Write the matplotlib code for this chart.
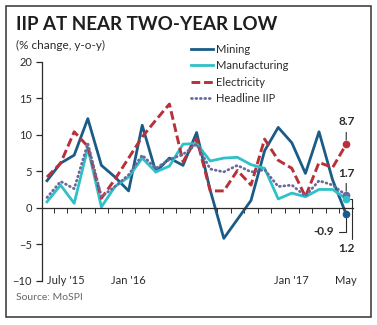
import numpy as np
import matplotlib
matplotlib.use('Agg')
import matplotlib.pyplot as plt
from matplotlib.patches import Rectangle

plt.rcParams['font.family'] = ['Lato', 'DejaVu Sans']

# monthly, July 2015 .. May 2017 (% change, y-o-y)
months = np.arange(23)
mining = [3.7, 6.1, 7.2, 12.2, 5.8, 4.2, 2.3, 11.3, 4.9, 6.8, 5.8, 10.3,
          2.4, -4.2, -1.6, 1.0, 7.8, 11.0, 8.9, 4.7, 10.4, 3.8, -0.9]
manufacturing = [0.8, 3.1, 0.6, 8.2, 0.1, 2.9, 4.2, 6.8, 4.9, 5.7, 8.7, 8.8,
                 6.4, 6.8, 6.9, 5.9, 5.4, 1.2, 2.0, 1.5, 2.5, 2.5, 1.2]
electricity = [4.2, 6.1, 10.4, 8.4, 1.3, 3.9, 6.8, 9.7, 12.0, 14.2, 6.3, 9.5,
               2.3, 2.3, 5.1, 3.1, 9.4, 6.5, 5.4, 1.5, 6.2, 5.5, 8.7]
headline = [1.4, 3.6, 2.6, 8.8, 1.5, 2.9, 4.5, 7.2, 5.4, 6.6, 7.3, 8.7,
            5.3, 4.9, 5.8, 4.9, 5.2, 2.9, 3.1, 1.6, 3.7, 3.1, 1.7]
tick_pos = [0, 6, 18, 22]
tick_labels = ["July '15", "Jan '16", "Jan '17", "May"]

c_min = '#1a5c87'
c_man = '#2fc0c8'
c_ele = '#b8303a'
c_hl = '#676a9b'
txt = '#2b2b2b'

fig = plt.figure(figsize=(3.77, 3.25), dpi=100)
ax = fig.add_axes([0.1106, 0.1363, 0.8258, 0.6738])

ax.plot(months, mining, color=c_min, lw=2.0, label='Mining')
ax.plot(months, manufacturing, color=c_man, lw=2.0, label='Manufacturing')
ax.plot(months, electricity, color=c_ele, lw=2.1, dashes=(3, 1.3), label='Electricity')
ax.plot(months, headline, color=c_hl, lw=2.0, linestyle=(0, (0.3, 1.3)),
        dash_capstyle='round', label='Headline IIP')

# end markers
for s, c in [(headline, c_hl), (manufacturing, c_man), (mining, c_min), (electricity, c_ele)]:
    ax.plot(months[-1], s[-1], 'o', color=c, ms=4.5, zorder=5)

ax.set_xlim(-0.39, 22.5)
ax.set_ylim(-10, 20)
ax.set_yticks(np.arange(-10, 21, 5))
ax.tick_params(axis='y', direction='out', length=4, width=0.9, colors=txt, labelsize=8, pad=3)
ax.set_xticks(np.arange(0.5, 22.5, 1))
ax.set_xticklabels([])
ax.tick_params(axis='x', direction='out', length=3.5, width=0.7, colors=txt)

for side in ['top', 'right']:
    ax.spines[side].set_visible(False)
ax.spines['left'].set_color(txt)
ax.spines['left'].set_linewidth(0.9)
ax.spines['bottom'].set_position(('data', 0))
ax.spines['bottom'].set_color(txt)
ax.spines['bottom'].set_linewidth(0.9)

for p, lab in zip(tick_pos, tick_labels):
    ax.text(p, -10, lab, ha='left' if p == 0 else 'center', va='center',
            fontsize=8, color=txt)

# value labels
bold = dict(fontsize=8.5, fontweight='bold', color=txt)
line = dict(arrowstyle='-', lw=0.8, color=txt, shrinkA=1.5, shrinkB=3)
ax.annotate('8.7', xy=(22, electricity[-1]), xytext=(0, 16), textcoords='offset points',
            ha='center', va='center', arrowprops=line, **bold)
ax.annotate('1.7', xy=(22, headline[-1]), xytext=(0, 16), textcoords='offset points',
            ha='center', va='center', arrowprops=line, **bold)
ax.annotate('-0.9', xy=(22, mining[-1]), xytext=(-9, -12.5), textcoords='offset points',
            ha='right', va='center',
            arrowprops=dict(line, connectionstyle='angle,angleA=0,angleB=90,rad=0', shrinkA=2),
            **bold)
ax.annotate('1.2', xy=(22, manufacturing[-1]), xytext=(0, -36), textcoords='offset points',
            ha='center', va='center',
            arrowprops=dict(line, relpos=(0.85, 1), shrinkA=1,
                            connectionstyle='angle,angleA=90,angleB=0,rad=0'),
            **bold)

leg = ax.legend(loc='upper left', bbox_to_anchor=(0.507, 0.866), bbox_transform=fig.transFigure,
                frameon=False, fontsize=8, handlelength=2.0, handletextpad=0.2,
                labelspacing=0.5, borderpad=0, borderaxespad=0)
for t in leg.get_texts():
    t.set_color(txt)

fig.text(16 / 377, 1 - 25 / 325, 'IIP AT NEAR TWO-YEAR LOW', fontsize=13.5, fontweight='bold',
         color='#1e1e1e', va='center')
fig.text(16 / 377, 1 - 45 / 325, '(% change, y-o-y)', fontsize=8.5, color=txt, va='center')
fig.text(16 / 377, 1 - 297 / 325, 'Source: MoSPI', fontsize=7.5, color='#666666', va='center')

fig.patches.append(Rectangle((6 / 377, 1 - 317 / 325), 365 / 377, 311 / 325,
                             transform=fig.transFigure, fill=False, lw=1.1, ec='#333333'))

fig.savefig('out.png', dpi=100)
